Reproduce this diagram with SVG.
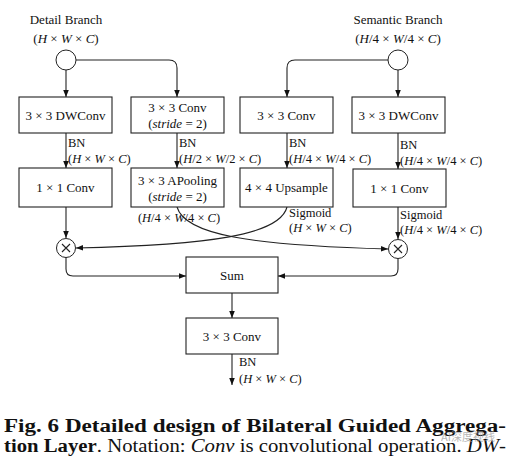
<svg xmlns="http://www.w3.org/2000/svg" width="515" height="460" viewBox="0 0 515 460">
<defs>
<marker id="ah" viewBox="0 0 10 10" refX="10" refY="5" markerWidth="7" markerHeight="7" markerUnits="userSpaceOnUse" orient="auto">
<path d="M0,1 L10,5 L0,9 z" fill="#111"/>
</marker>
<style>
.box{fill:#fff;stroke:#222;stroke-width:1.1}
.circ{fill:#fff;stroke:#222;stroke-width:1}
.ln{fill:none;stroke:#222;stroke-width:1.1}
.arr{fill:none;stroke:#222;stroke-width:1.1;marker-end:url(#ah)}
.t{font-family:"Liberation Serif","Times New Roman","DejaVu Serif",serif;font-size:13px;fill:#111}
.s{font-family:"Liberation Serif","Times New Roman","DejaVu Serif",serif;font-size:12.5px;fill:#111}
.c{text-anchor:middle}
.i{font-style:italic}
.cap{font-family:"Liberation Serif","Times New Roman","DejaVu Serif",serif;font-size:18px;fill:#111}
</style>
</defs>
<rect width="515" height="460" fill="#fff"/>

<g id="connectors">
<path class="arr" d="M66,70 V97"/>
<path class="arr" d="M76,60 H169 Q177,60 177,68 V97"/>
<path class="arr" d="M388,60 H295 Q287,60 287,68 V97"/>
<path class="arr" d="M398,70 V97"/>
<path class="arr" d="M66,133 V168"/>
<path class="arr" d="M177,133 V168"/>
<path class="arr" d="M287,133 V168"/>
<path class="arr" d="M398,133 V169"/>
<path class="arr" d="M66,207 V238"/>
<path class="arr" d="M398,207 V239"/>
<path class="arr" d="M177,207 C185,235 250,245 388,249"/>
<path class="arr" d="M287,207 C280,235 210,245 76,248"/>
<path class="arr" d="M66,257 V269 Q66,276 73,276 H186"/>
<path class="arr" d="M398,258 V269 Q398,276 391,276 H278"/>
<path class="arr" d="M232,293 V318"/>
<path class="arr" d="M232,354 V385"/>
</g>

<g id="detail-branch">
<text class="t c" x="66" y="24">Detail Branch</text>
<text class="t c" x="66" y="43">(<tspan class="i">H</tspan> × <tspan class="i">W</tspan> × <tspan class="i">C</tspan>)</text>
<circle class="circ" cx="66" cy="60" r="10"/>
</g>
<g id="semantic-branch">
<text class="t c" x="398" y="24">Semantic Branch</text>
<text class="t c" x="398" y="43">(<tspan class="i">H</tspan>/4 × <tspan class="i">W</tspan>/4 × <tspan class="i">C</tspan>)</text>
<circle class="circ" cx="398" cy="60" r="10"/>
</g>

<g id="dwconv-left">
<rect class="box" x="19" y="97" width="93" height="36"/>
<text class="t c" x="65.5" y="120">3 × 3 DWConv</text>
</g>
<g id="conv-stride">
<rect class="box" x="131" y="97" width="93" height="36"/>
<text class="t c" x="177.5" y="112">3 × 3 Conv</text>
<text class="t c" x="177.5" y="128">(<tspan class="i">stride</tspan> = 2)</text>
</g>
<g id="conv-right">
<rect class="box" x="240" y="97" width="93" height="36"/>
<text class="t c" x="286.5" y="120">3 × 3 Conv</text>
</g>
<g id="dwconv-right">
<rect class="box" x="352" y="97" width="93" height="36"/>
<text class="t c" x="398.5" y="120">3 × 3 DWConv</text>
</g>

<g id="labels-row1">
<text class="s" x="68" y="147">BN</text>
<text class="s" x="68" y="163">(<tspan class="i">H</tspan> × <tspan class="i">W</tspan> × <tspan class="i">C</tspan>)</text>
<text class="s" x="179" y="147">BN</text>
<text class="s" x="179" y="163">(<tspan class="i">H</tspan>/2 × <tspan class="i">W</tspan>/2 × <tspan class="i">C</tspan>)</text>
<text class="s" x="289" y="147">BN</text>
<text class="s" x="289" y="163">(<tspan class="i">H</tspan>/4 × <tspan class="i">W</tspan>/4 × <tspan class="i">C</tspan>)</text>
<text class="s" x="400" y="149">BN</text>
<text class="s" x="400" y="165">(<tspan class="i">H</tspan>/4 × <tspan class="i">W</tspan>/4 × <tspan class="i">C</tspan>)</text>
</g>

<g id="conv1x1-left">
<rect class="box" x="19" y="168" width="93" height="39"/>
<text class="t c" x="65.5" y="192">1 × 1 Conv</text>
</g>
<g id="apooling">
<rect class="box" x="131" y="168" width="93" height="39"/>
<text class="t c" x="177.5" y="185">3 × 3 APooling</text>
<text class="t c" x="177.5" y="201">(<tspan class="i">stride</tspan> = 2)</text>
</g>
<g id="upsample">
<rect class="box" x="240" y="168" width="93" height="39"/>
<text class="t c" x="286.5" y="192">4 × 4 Upsample</text>
</g>
<g id="conv1x1-right">
<rect class="box" x="353" y="169" width="93" height="38"/>
<text class="t c" x="399.5" y="193">1 × 1 Conv</text>
</g>

<g id="labels-row2">
<text class="s c" x="179" y="222">(<tspan class="i">H</tspan>/4 × <tspan class="i">W</tspan>/4 × <tspan class="i">C</tspan>)</text>
<text class="s" x="289" y="217">Sigmoid</text>
<text class="s" x="289" y="232">(<tspan class="i">H</tspan> × <tspan class="i">W</tspan> × <tspan class="i">C</tspan>)</text>
<text class="s" x="400" y="219">Sigmoid</text>
<text class="s" x="400" y="234">(<tspan class="i">H</tspan>/4 × <tspan class="i">W</tspan>/4 × <tspan class="i">C</tspan>)</text>
</g>

<g id="mul-left">
<circle class="circ" cx="66" cy="248" r="9.5"/>
<path class="ln" d="M62,244 L70,252 M70,244 L62,252" stroke-width="0.9"/>
</g>
<g id="mul-right">
<circle class="circ" cx="398" cy="249" r="9.5"/>
<path class="ln" d="M394,245 L402,253 M402,245 L394,253" stroke-width="0.9"/>
</g>

<g id="sum">
<rect class="box" x="186" y="257" width="92" height="36"/>
<text class="t c" x="232" y="280">Sum</text>
</g>
<g id="conv-final">
<rect class="box" x="186" y="318" width="92" height="36"/>
<text class="t c" x="232" y="341">3 × 3 Conv</text>
</g>
<g id="output-label">
<text class="s" x="239" y="366">BN</text>
<text class="s" x="239" y="383">(<tspan class="i">H</tspan> × <tspan class="i">W</tspan> × <tspan class="i">C</tspan>)</text>
</g>

<g id="caption">
<text class="cap" x="4" y="432" font-weight="bold" textLength="502" lengthAdjust="spacingAndGlyphs">Fig. 6 Detailed design of Bilateral Guided Aggrega-</text>
<text class="cap" x="4" y="452" textLength="502" lengthAdjust="spacingAndGlyphs"><tspan font-weight="bold">tion Layer</tspan>. Notation: <tspan class="i">Conv</tspan> is convolutional operation. <tspan class="i">DW</tspan>-</text>
<text x="441" y="441" font-family="'Noto Sans CJK SC',sans-serif" font-size="11" fill="#999" opacity="0.7">AI深度视线</text>
</g>
</svg>
